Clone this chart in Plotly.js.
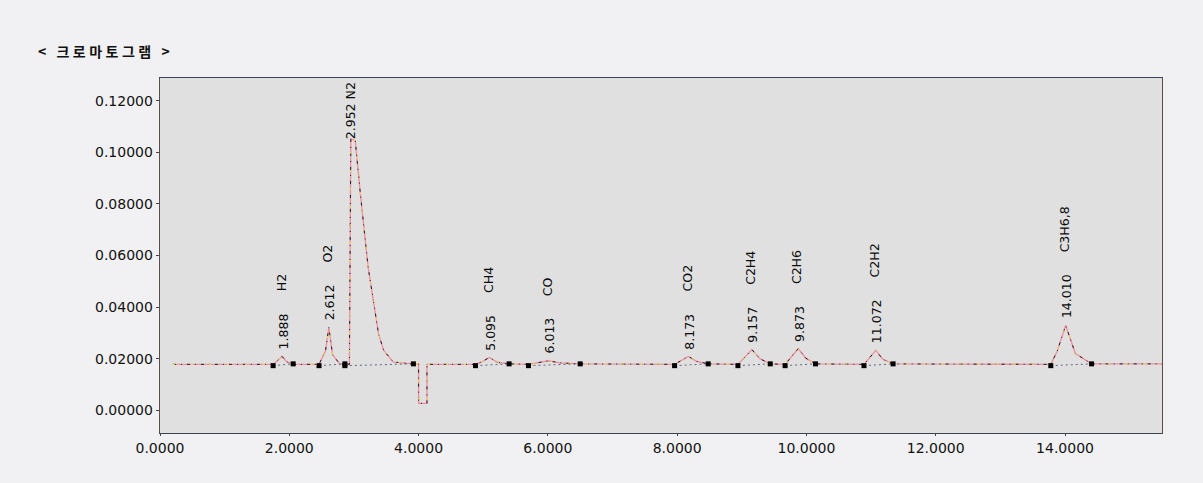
<!DOCTYPE html>
<html>
<head>
<meta charset="utf-8">
<script src="https://cdn.plot.ly/plotly-3.0.1.min.js"></script>
<style>
  html, body { margin: 0; padding: 0; background: #f1f1f3; }
  #chart { width: 1203px; height: 483px; }
  .gtitle { letter-spacing: 3.5px; }
</style>
</head>
<body>
<div id="chart"></div>
<script>
// ---- chromatogram signal (retention time in min, detector response) ----
const times = [0.2, 1.75, 1.82, 1.888, 1.96, 2.06, 2.46, 2.56, 2.612, 2.67, 2.78, 2.86, 2.93, 2.952,
  3.02, 3.10, 3.17, 3.22, 3.30, 3.38, 3.46, 3.61, 3.92, 4.00, 4.00, 4.13, 4.13,
  4.88, 4.98, 5.095, 5.22, 5.40, 5.70, 5.86, 6.013, 6.18, 6.50,
  7.96, 8.06, 8.173, 8.30, 8.48, 8.94, 9.05, 9.157, 9.28, 9.44,
  9.67, 9.77, 9.873, 9.99, 10.14, 10.89, 10.98, 11.072, 11.18, 11.34,
  13.78, 13.88, 14.010, 14.16, 14.41, 15.5];
const signal = [0.0178, 0.0178, 0.0193, 0.0209, 0.0188, 0.0178, 0.0178, 0.0230, 0.0321, 0.0215, 0.0180, 0.0178, 0.0178, 0.1052,
  0.1045, 0.0838, 0.0683, 0.0554, 0.0426, 0.0297, 0.0232, 0.0187, 0.0180, 0.0180, 0.0027, 0.0027, 0.0178,
  0.0178, 0.0188, 0.0205, 0.0186, 0.0180, 0.0178, 0.0184, 0.0192, 0.0184, 0.0180,
  0.0178, 0.0192, 0.0209, 0.0190, 0.0180, 0.0178, 0.0205, 0.0235, 0.0200, 0.0180,
  0.0178, 0.0208, 0.0239, 0.0202, 0.0180, 0.0178, 0.0205, 0.0232, 0.0198, 0.0180,
  0.0178, 0.0230, 0.0329, 0.0220, 0.0180, 0.0180];

// ---- peak integration limits ----
const peakStart = [1.75, 2.46, 2.86, 4.88, 5.70, 7.96, 8.94, 9.67, 10.89, 13.78];
const peakEnd   = [2.06, 2.86, 3.92, 5.40, 6.50, 8.48, 9.44, 10.14, 11.34, 14.41];
const startLevel = [0.0173, 0.0173, 0.0173, 0.0173, 0.0173, 0.0173, 0.0173, 0.0173, 0.0173, 0.0173];
const endLevel   = [0.0180, 0.0180, 0.0180, 0.0180, 0.0180, 0.0180, 0.0180, 0.0180, 0.0180, 0.0180];

// ---- peak labels ----
const peakTimes   = [1.888, 2.612, 2.952, 5.095, 6.013, 8.173, 9.157, 9.873, 11.072, 14.010];
const peakHeights = [0.0209, 0.0321, 0.1052, 0.0205, 0.0192, 0.0209, 0.0235, 0.0239, 0.0232, 0.0329];
const rtLabels    = ["1.888", "2.612", "2.952", "5.095", "6.013", "8.173", "9.157", "9.873", "11.072", "14.010"];
const compounds   = ["H2", "O2", "N2", "CH4", "CO", "CO2", "C2H4", "C2H6", "C2H2", "C3H6,8"];

// ---- axis ticks ----
const xTicks = [0, 2, 4, 6, 8, 10, 12, 14];
const xTickText = ["0.0000", "2.0000", "4.0000", "6.0000", "8.0000", "10.0000", "12.0000", "14.0000"];
const yTicks = [0, 0.02, 0.04, 0.06, 0.08, 0.10, 0.12];
const yTickText = ["0.00000", "0.02000", "0.04000", "0.06000", "0.08000", "0.10000", "0.12000"];

const labelSize = 12.5;
const labelFont = {family: "DejaVu Sans, Liberation Sans, sans-serif", size: labelSize, color: "#0a0a0a"};
const ctx = document.createElement("canvas").getContext("2d");
ctx.font = labelSize + "px 'DejaVu Sans'";
function textLen(s) { return ctx.measureText(s).width; }

// marker points & baseline segments
const mx = [], my = [], bx = [], by = [];
peakStart.forEach((s, i) => {
  mx.push(s, peakEnd[i]); my.push(startLevel[i], endLevel[i]);
  bx.push(s, peakEnd[i], null); by.push(startLevel[i], endLevel[i], null);
});

const traces = [
  {x: times, y: signal, type: "scatter", mode: "lines",
   line: {color: "#ee8e9e", width: 1.3}, hoverinfo: "skip"},
  {x: times, y: signal, type: "scatter", mode: "lines",
   line: {color: "#1c1c2a", width: 1, dash: "3px,5px,1px,5px"}, hoverinfo: "skip"},
  {x: times, y: signal, type: "scatter", mode: "lines",
   line: {color: "#f2e23a", width: 1, dash: "2px,16px"}, hoverinfo: "skip"},
  {x: bx, y: by, type: "scatter", mode: "lines",
   line: {color: "#3a4a6a", width: 0.8, dash: "2px,3px"}, hoverinfo: "skip"},
  {x: mx, y: my, type: "scatter", mode: "markers",
   marker: {symbol: "square", size: 5, color: "#000"}, hoverinfo: "skip"}
];

const annotations = [];
peakTimes.forEach((t, i) => {
  if (compounds[i] === "N2") {
    annotations.push({x: t, y: peakHeights[i], xref: "x", yref: "y", text: rtLabels[i] + " " + compounds[i],
      showarrow: false, textangle: -90, xanchor: "center", yanchor: "bottom", yshift: -2, font: labelFont});
    return;
  }
  annotations.push({x: t, y: peakHeights[i], xref: "x", yref: "y", text: rtLabels[i],
    showarrow: false, textangle: -90, xanchor: "center", yanchor: "bottom", yshift: 5, xshift: 1, font: labelFont});
  annotations.push({x: t, y: peakHeights[i], xref: "x", yref: "y", text: compounds[i],
    showarrow: false, textangle: -90, xanchor: "center", yanchor: "bottom",
    yshift: 5 + textLen(rtLabels[i]) + 22, xshift: -1, font: labelFont});
});

const layout = {
  width: 1203, height: 483,
  margin: {l: 160, r: 41, t: 78, b: 50},
  paper_bgcolor: "#f1f1f3",
  plot_bgcolor: "#e0e0e0",
  showlegend: false,
  title: {text: "&lt; 크로마토그램 &gt;", x: 38 / 1203, xanchor: "left", xref: "container",
          y: 1 - 52 / 483, yanchor: "middle", yref: "container",
          font: {family: "Noto Sans CJK KR, sans-serif", size: 14, color: "#111", weight: 700}},
  xaxis: {range: [0, 15.5], tickvals: xTicks, ticktext: xTickText, showgrid: false, zeroline: false,
          showline: true, linecolor: "#3a4256", linewidth: 1.3, mirror: true,
          ticks: "outside", ticklen: 2, tickcolor: "#444",
          tickfont: {family: "DejaVu Sans, sans-serif", size: 14, color: "#111"}},
  yaxis: {range: [-0.0088, 0.1288], tickvals: yTicks, ticktext: yTickText, showgrid: false, zeroline: false,
          showline: true, linecolor: "#5a4d4a", linewidth: 1.3, mirror: true,
          ticks: "outside", ticklen: 3, tickcolor: "#444",
          tickfont: {family: "DejaVu Sans, sans-serif", size: 14, color: "#111"}},
  annotations: annotations
};

Plotly.newPlot("chart", traces, layout, {staticPlot: true, displayModeBar: false});
</script>
</body>
</html>
